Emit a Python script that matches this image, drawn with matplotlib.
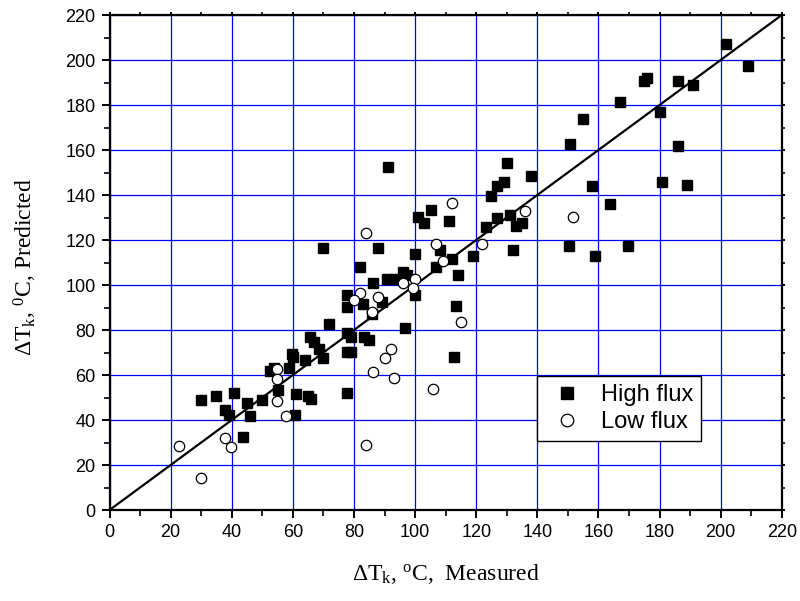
import matplotlib
matplotlib.use("Agg")
import matplotlib.pyplot as plt
from matplotlib.ticker import MultipleLocator

plt.rcParams['mathtext.fontset'] = 'custom'
plt.rcParams['mathtext.rm'] = 'Liberation Serif'
plt.rcParams['mathtext.it'] = 'Liberation Serif:italic'

high_x = [29.9, 34.8, 37.9, 39.2, 40.8, 43.6, 44.9, 46.0, 49.9, 52.6, 53.7, 55.1,
          58.9, 59.7, 60.0, 61.0, 60.6, 64.0, 64.8, 65.8, 65.7, 66.8, 68.7, 69.8,
          71.8, 77.7, 77.7, 77.7, 77.7, 77.7, 79.1, 79.1, 83.3, 84.9, 82.9, 89.1,
          85.8, 100.0, 113.4, 96.6, 112.7, 86.1, 91.0, 70.0, 88.0, 82.0, 90.9, 93.4,
          96.0, 97.2, 100.0, 101.0, 102.9, 105.1, 111.1, 107.0, 108.1, 112.0, 114.0,
          118.9, 132.0, 123.1, 126.9, 131.0, 132.9, 135.0, 124.9, 126.9, 129.1, 130.0,
          138.0, 201.9, 208.9, 175.8, 174.8, 185.9, 190.8, 166.9, 180.0, 154.9, 150.7,
          185.9, 157.8, 180.8, 189.0, 163.9, 150.5, 158.9, 169.6]
high_y = [48.9, 50.7, 44.4, 42.2, 51.9, 32.6, 47.4, 41.9, 48.9, 61.8, 63.1, 53.3,
          63.1, 69.3, 67.9, 51.4, 42.1, 66.7, 50.7, 49.5, 77.0, 74.7, 71.4, 67.7,
          82.7, 95.6, 90.4, 78.8, 70.2, 51.9, 76.7, 70.4, 76.7, 75.6, 91.6, 92.6,
          87.0, 95.6, 90.8, 80.7, 67.9, 100.7, 152.6, 116.6, 116.6, 108.1, 102.5, 102.5,
          105.9, 104.4, 113.6, 130.4, 127.4, 133.3, 128.4, 108.1, 115.6, 111.6, 104.4,
          113.0, 115.4, 125.6, 129.6, 131.1, 126.2, 127.4, 139.7, 144.0, 145.9, 154.4,
          148.6, 207.1, 197.5, 192.1, 190.7, 190.7, 188.9, 181.5, 176.7, 173.9, 162.7,
          161.9, 144.1, 145.6, 144.6, 136.0, 117.5, 112.9, 117.5]

low_x = [22.8, 29.8, 37.9, 39.9, 54.9, 54.9, 54.9, 57.7, 84.1, 112.2, 107.0, 109.0,
         122.0, 136.0, 100.0, 96.0, 99.3, 82.0, 80.0, 88.0, 86.0, 115.1, 92.0, 90.0,
         86.1, 93.1, 106.0, 84.0, 151.8]
low_y = [28.4, 14.4, 32.1, 27.9, 62.7, 58.2, 48.3, 41.8, 123.0, 136.3, 118.2, 110.7,
         118.2, 133.0, 102.7, 100.7, 98.5, 96.4, 93.3, 94.5, 88.1, 83.7, 71.6, 67.7,
         61.2, 58.8, 53.6, 28.9, 130.1]

line_x = [0, 220]
line_y = [0, 220]

fig = plt.figure(figsize=(8, 6.01), dpi=100)
ax = fig.add_axes([0.1369, 0.1514, 0.8403, 0.8236])

ax.set_xlim(0, 220)
ax.set_ylim(0, 220)
ax.xaxis.set_major_locator(MultipleLocator(20))
ax.xaxis.set_minor_locator(MultipleLocator(10))
ax.yaxis.set_major_locator(MultipleLocator(20))
ax.yaxis.set_minor_locator(MultipleLocator(10))

ax.grid(True, which='major', color='#0000ff', linewidth=0.9)
ax.set_axisbelow(True)

ax.plot(line_x, line_y, color='black', linewidth=1.6, zorder=2)

ax.plot(high_x, high_y, linestyle='none', marker='s', markersize=7,
        markerfacecolor='black', markeredgecolor='black', label='High flux', zorder=3)
ax.plot(low_x, low_y, linestyle='none', marker='o', markersize=7.5,
        markerfacecolor='white', markeredgecolor='black', markeredgewidth=0.9,
        label='Low flux', zorder=4)

for s in ax.spines.values():
    s.set_linewidth(1.6)
    s.set_color('black')

ax.tick_params(which='both', direction='out', top=True, right=True, color='black')
ax.tick_params(which='major', length=6, width=1.4, labelsize=13, pad=4)
ax.tick_params(which='minor', length=4, width=1.2)
for lab in ax.get_xticklabels() + ax.get_yticklabels():
    lab.set_fontfamily('Liberation Sans')

# shorter ticks on top/right
for t in ax.xaxis.get_major_ticks() + ax.xaxis.get_minor_ticks():
    t.tick2line.set_markersize(2.5)
for t in ax.yaxis.get_major_ticks() + ax.yaxis.get_minor_ticks():
    t.tick2line.set_markersize(2.5)

ax.set_xlabel('ΔT$_\\mathrm{k}$, $^\\mathrm{o}$C,  Measured', fontfamily='Liberation Serif',
              fontsize=17, labelpad=15)
ax.set_ylabel('ΔT$_\\mathrm{k}$, $^\\mathrm{0}$C, Predicted', fontfamily='Liberation Serif',
              fontsize=17)
ax.yaxis.set_label_coords(-0.105, 0.49)

leg = ax.legend(loc='upper left', bbox_to_anchor=(0.636, 0.271), borderaxespad=0,
                prop={'family': 'Liberation Sans', 'size': 17}, frameon=True,
                fancybox=False, shadow=False, borderpad=0.35, handlelength=1.8,
                handletextpad=0.55, labelspacing=0.2, numpoints=1, markerscale=1.2)
leg.get_frame().set_edgecolor('black')
leg.get_frame().set_linewidth(1.0)
leg.get_frame().set_alpha(1)

fig.savefig('out.png', dpi=100)
